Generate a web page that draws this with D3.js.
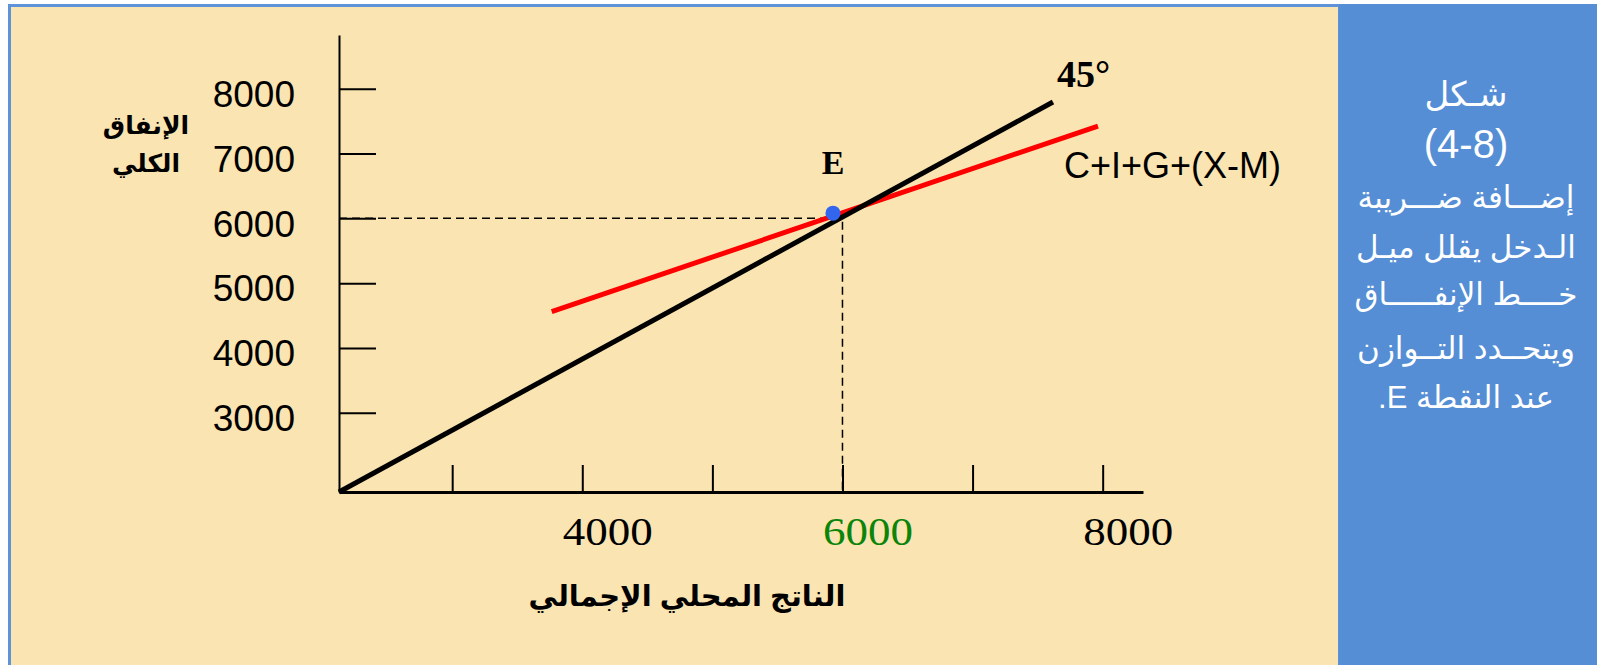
<!DOCTYPE html>
<meta charset="utf-8">

<!-- Load d3.js -->
<script src="https://d3js.org/d3.v7.min.js"></script>

<style>
    body {
        margin: 0;
        background-color: white;
    }
    svg {
        display: block;
    }
    .arabic {
        font-family: Arial, "Liberation Sans", "DejaVu Sans", sans-serif;
    }
</style>

<body>
    <div id="my_dataviz"></div>
</body>

<script>

    // axis ranges (GDP on x, aggregate expenditure on y)
    const xDomain = [2130, 8310];
    const yDomain = [1776, 8830];
    const xTicks = [3000, 4000, 5000, 6000, 7000, 8000];
    const xLabels = [4000, 6000, 8000];
    const yTicks = [3000, 4000, 5000, 6000, 7000, 8000];

    // 45 degree line and the flatter C+I+G+(X-M) line
    const line45 = [[2130, 1776], [7618, 7795]];
    const aeLine = [[3765, 4559], [7964, 7425]];

    // equilibrium point E and the dashed guides
    const pointE = [5927, 6080];
    const equilibrium = [6000, 6000];

    const yTitle = ["الإنفاق", "الكلي"];
    const xTitle = "الناتج المحلي الإجمالي";
    const aeLabel = "C+I+G+(X-M)";
    const caption = ["شـكل", "(4-8)", "إضـــافة ضـــريبة", "الـدخل يقلل ميـل", "خــــط الإنفـــــاق", "ويتحــدد التــوازن", "عند النقطة E."];

    var width = 1597, height = 665;

    var svg = d3.select("#my_dataviz").append("svg")
        .attr("width", width)
        .attr("height", height);

    // background panels
    svg.append("rect")
        .attr("x", 9.5).attr("y", 5.5)
        .attr("width", 1330).attr("height", 670)
        .attr("fill", "#fae4b1")
        .attr("stroke", "#5f93d8")
        .attr("stroke-width", 3);

    svg.append("rect")
        .attr("x", 1339).attr("y", 4)
        .attr("width", 258).attr("height", 661)
        .attr("fill", "#558ed5");

    var x = d3.scaleLinear().domain(xDomain).range([339, 1143]);
    var y = d3.scaleLinear().domain(yDomain).range([492, 35]);

    // y axis, ticks pointing inward
    var yAxis = svg.append("g")
        .attr("transform", "translate(" + x(xDomain[0]) + ",0)")
        .call(d3.axisLeft(y).tickValues(yTicks).tickFormat(d3.format("d"))
            .tickSizeInner(-37).tickSizeOuter(0).tickPadding(44));
    yAxis.select(".domain").attr("stroke-width", 2);
    yAxis.selectAll(".tick line").attr("stroke-width", 2);
    yAxis.selectAll("text")
        .attr("dy", "0.48em")
        .style("font-family", "Arial, 'Liberation Sans', sans-serif")
        .style("font-size", "37px")
        .attr("fill", "#000");

    // x axis, only every other tick labelled
    var xAxis = svg.append("g")
        .attr("transform", "translate(0," + y(yDomain[0]) + ")")
        .call(d3.axisBottom(x).tickValues(xTicks).tickSizeInner(-27).tickSizeOuter(0).tickPadding(24)
            .tickFormat(function (d) { return xLabels.includes(d) ? d : ""; }));
    xAxis.select(".domain").attr("stroke-width", 3);
    xAxis.selectAll(".tick line").attr("stroke-width", 2);
    xAxis.selectAll("text")
        .filter(function (d) { return xLabels.includes(d); })
        .attr("dx", 25)
        .attr("textLength", 90)
        .attr("lengthAdjust", "spacingAndGlyphs")
        .style("font-family", "'Liberation Serif', 'Times New Roman', serif")
        .style("font-size", "41px")
        .attr("fill", function (d) { return d === 6000 ? "#0a850a" : "#000"; });

    // dashed guides from E to both axes
    var guide = d3.line();
    svg.append("path")
        .attr("d", guide([[x(xDomain[0]), y(equilibrium[1])], [x(equilibrium[0]), y(equilibrium[1])], [x(equilibrium[0]), y(yDomain[0])]]))
        .attr("fill", "none")
        .attr("stroke", "#000")
        .attr("stroke-width", 1.5)
        .attr("stroke-dasharray", "8,5");

    var line = d3.line()
        .x(function (d) { return x(d[0]); })
        .y(function (d) { return y(d[1]); });

    svg.append("path")
        .attr("d", line(aeLine))
        .attr("fill", "none")
        .attr("stroke", "#ff0000")
        .attr("stroke-width", 5);

    svg.append("path")
        .attr("d", line(line45))
        .attr("fill", "none")
        .attr("stroke", "#000")
        .attr("stroke-width", 5);

    svg.append("circle")
        .attr("cx", x(pointE[0]))
        .attr("cy", y(pointE[1]))
        .attr("r", 7.5)
        .attr("fill", "#3366ee");

    // labels on the chart
    svg.append("text")
        .attr("x", x(pointE[0]))
        .attr("y", 174)
        .attr("text-anchor", "middle")
        .style("font-family", "'Liberation Serif', serif")
        .style("font-weight", "bold")
        .style("font-size", "34px")
        .text("E");

    svg.append("text")
        .attr("x", x(line45[1][0]) + 4)
        .attr("y", 87)
        .style("font-family", "'Liberation Serif', serif")
        .style("font-weight", "bold")
        .style("font-size", "38px")
        .text("45°");

    svg.append("text")
        .attr("x", 1064)
        .attr("y", 178)
        .style("font-family", "Arial, 'Liberation Sans', sans-serif")
        .style("font-size", "36px")
        .text(aeLabel);

    svg.selectAll("text.ytitle")
        .data(yTitle)
        .enter().append("text")
        .attr("class", "ytitle arabic")
        .attr("x", 146)
        .attr("y", function (d, i) { return 134 + i * 38; })
        .attr("text-anchor", "middle")
        .attr("direction", "rtl")
        .style("font-weight", "bold")
        .style("font-size", "25px")
        .text(function (d) { return d; });

    svg.append("text")
        .attr("class", "arabic")
        .attr("x", 687)
        .attr("y", 606)
        .attr("text-anchor", "middle")
        .attr("direction", "rtl")
        .style("font-weight", "bold")
        .style("font-size", "29px")
        .text(xTitle);

    // caption in the blue panel
    var capY = [106, 158, 208, 258, 305, 359, 408];
    svg.selectAll("text.caption")
        .data(caption)
        .enter().append("text")
        .attr("class", "caption arabic")
        .attr("x", 1466)
        .attr("y", function (d, i) { return capY[i]; })
        .attr("text-anchor", "middle")
        .attr("direction", "rtl")
        .attr("fill", "#fff")
        .style("font-size", function (d, i) { return i === 1 ? "40px" : i === 0 ? "34px" : "31px"; })
        .text(function (d) { return d; });

</script>
